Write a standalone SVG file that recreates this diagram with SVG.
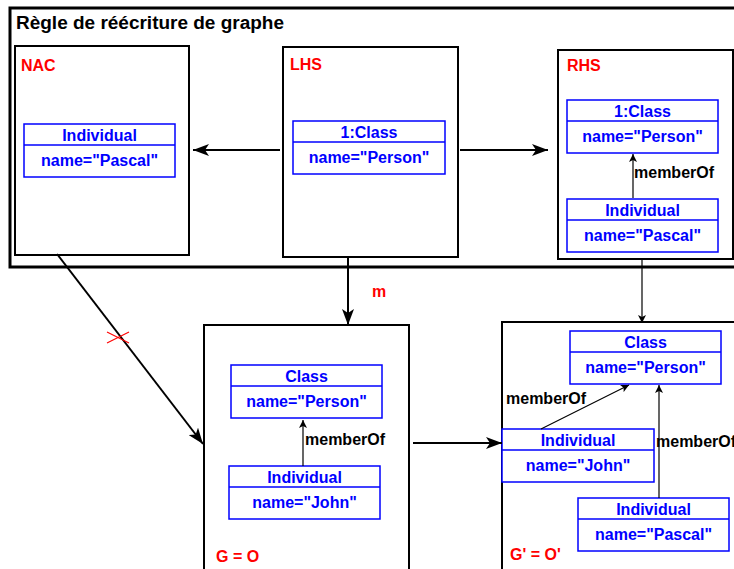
<svg xmlns="http://www.w3.org/2000/svg" width="734" height="569" viewBox="0 0 734 569">
<style>
.frame{fill:none;stroke:#000;stroke-width:3}
.cont{fill:#fff;stroke:#000;stroke-width:2}
.node{fill:#fff;stroke:#0000ff;stroke-width:1.5}
.div{stroke:#0000ff;stroke-width:1.5}
.nt{font-family:"Liberation Sans",Arial,sans-serif;font-weight:bold;font-size:16px;fill:#0000ff;text-anchor:middle}
.lbl{font-family:"Liberation Sans",Arial,sans-serif;font-weight:bold;font-size:16px;fill:#ff0000}
.el{font-family:"Liberation Sans",Arial,sans-serif;font-weight:bold;font-size:16px;fill:#000}
.thick{stroke:#000;stroke-width:2;fill:none;marker-end:url(#big)}
.thin{stroke:#000;stroke-width:1.2;fill:none;marker-end:url(#small)}
</style>
<defs>
<marker id="big" markerUnits="userSpaceOnUse" viewBox="0 0 16 12" refX="16" refY="6" markerWidth="16" markerHeight="12" orient="auto">
<path d="M0,0 L16,6 L0,12 L4,6 z" fill="#000"/>
</marker>
<marker id="small" markerUnits="userSpaceOnUse" viewBox="0 0 8 8" refX="8" refY="4" markerWidth="8" markerHeight="8" orient="auto">
<path d="M0,0 L8,4 L0,8 L2,4 z" fill="#000"/>
</marker>
</defs>
<rect width="734" height="569" fill="#fff"/>

<g id="rule">
<rect class="frame" x="10" y="8" width="740" height="259"/>
<text x="16" y="29" font-family="Liberation Sans, Arial, sans-serif" font-weight="bold" font-size="18" textLength="268" lengthAdjust="spacingAndGlyphs">Règle de réécriture de graphe</text>
</g>

<g id="NAC">
<rect class="cont" x="15" y="46" width="174" height="209"/>
<text class="lbl" x="21" y="71">NAC</text>
<g id="nac-individual">
<rect class="node" x="24" y="124" width="151" height="53"/>
<line class="div" x1="24" y1="145" x2="175" y2="145"/>
<text class="nt" x="99.5" y="141">Individual</text>
<text class="nt" x="99.5" y="166">name="Pascal"</text>
</g>
</g>

<g id="LHS">
<rect class="cont" x="283" y="47" width="175" height="210"/>
<text class="lbl" x="290" y="70">LHS</text>
<g id="lhs-class">
<rect class="node" x="293" y="121" width="152" height="53"/>
<line class="div" x1="293" y1="142" x2="445" y2="142"/>
<text class="nt" x="369" y="138">1:Class</text>
<text class="nt" x="369" y="163">name="Person"</text>
</g>
</g>

<g id="RHS">
<rect class="cont" x="558" y="50" width="175" height="209"/>
<text class="lbl" x="567" y="71">RHS</text>
<g id="rhs-class">
<rect class="node" x="567" y="100" width="151" height="53"/>
<line class="div" x1="567" y1="121" x2="718" y2="121"/>
<text class="nt" x="642.5" y="117">1:Class</text>
<text class="nt" x="642.5" y="142">name="Person"</text>
</g>
<g id="rhs-individual">
<rect class="node" x="567" y="199" width="151" height="53"/>
<line class="div" x1="567" y1="220" x2="718" y2="220"/>
<text class="nt" x="642.5" y="216">Individual</text>
<text class="nt" x="642.5" y="241">name="Pascal"</text>
</g>
</g>

<g id="G">
<rect class="cont" x="204" y="325" width="205" height="260"/>
<text class="lbl" x="216" y="562">G = O</text>
<g id="g-class">
<rect class="node" x="231" y="365" width="151" height="53"/>
<line class="div" x1="231" y1="386" x2="382" y2="386"/>
<text class="nt" x="306.5" y="382">Class</text>
<text class="nt" x="306.5" y="407">name="Person"</text>
</g>
<g id="g-individual">
<rect class="node" x="229" y="466" width="151" height="53"/>
<line class="div" x1="229" y1="487" x2="380" y2="487"/>
<text class="nt" x="304.5" y="483">Individual</text>
<text class="nt" x="304.5" y="508">name="John"</text>
</g>
</g>

<g id="Gprime">
<rect class="cont" x="502" y="322" width="260" height="260"/>
<text class="lbl" x="510" y="560">G' = O'</text>
<g id="gp-class">
<rect class="node" x="570" y="331" width="151" height="53"/>
<line class="div" x1="570" y1="352" x2="721" y2="352"/>
<text class="nt" x="645.5" y="348">Class</text>
<text class="nt" x="645.5" y="373">name="Person"</text>
</g>
<g id="gp-john">
<rect class="node" x="502" y="429" width="152" height="53"/>
<line class="div" x1="502" y1="450" x2="654" y2="450"/>
<text class="nt" x="578" y="446">Individual</text>
<text class="nt" x="578" y="471">name="John"</text>
</g>
<g id="gp-pascal">
<rect class="node" x="578" y="498" width="151" height="53"/>
<line class="div" x1="578" y1="519" x2="729" y2="519"/>
<text class="nt" x="653.5" y="515">Individual</text>
<text class="nt" x="653.5" y="540">name="Pascal"</text>
</g>
</g>

<g id="connectors">
<line class="thick" x1="280" y1="150" x2="193" y2="150"/>
<line class="thick" x1="460" y1="150" x2="548" y2="150"/>
<line class="thick" x1="348" y1="257" x2="348" y2="325"/>
<text class="lbl" x="372" y="297">m</text>
<line class="thick" x1="57" y1="254" x2="203" y2="444"/>
<g stroke="#ff0000" stroke-width="1.2">
<line x1="107" y1="332" x2="129" y2="343"/>
<line x1="107" y1="343" x2="129" y2="332"/>
</g>
<line class="thick" x1="413" y1="443" x2="502" y2="443"/>
<line class="thin" x1="642" y1="259" x2="642" y2="323"/>
<line class="thin" x1="633" y1="198" x2="633" y2="154"/>
<text class="el" x="634" y="178">memberOf</text>
<line class="thin" x1="303" y1="466" x2="303" y2="420"/>
<text class="el" x="305" y="445">memberOf</text>
<line class="thin" x1="541" y1="429" x2="629" y2="385"/>
<text class="el" x="506" y="404">memberOf</text>
<line class="thin" x1="659" y1="498" x2="659" y2="385"/>
<text class="el" x="656" y="447">memberOf</text>
</g>
</svg>
